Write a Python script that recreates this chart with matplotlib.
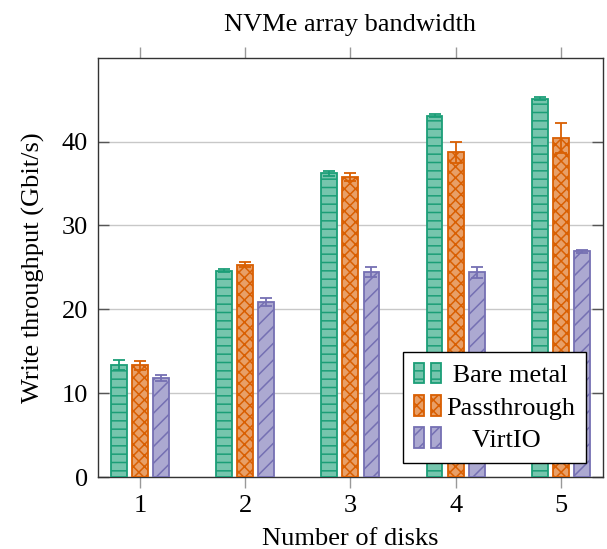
import matplotlib.pyplot as plt
import numpy as np
from matplotlib.colors import to_rgb
from matplotlib.legend_handler import HandlerTuple
from matplotlib.patches import Patch

plt.rcParams["font.family"] = ["Liberation Serif", "DejaVu Serif"]
plt.rcParams["hatch.linewidth"] = 1.1

disks = [1, 2, 3, 4, 5]
series = ["Bare metal", "Passthrough", "VirtIO"]
bare_metal = [13.4, 24.6, 36.2, 43.1, 45.1]
bare_metal_err = [0.6, 0.2, 0.3, 0.2, 0.2]
passthrough = [13.3, 25.3, 35.8, 38.7, 40.4]
passthrough_err = [0.5, 0.3, 0.5, 1.2, 1.8]
virtio = [11.8, 20.9, 24.4, 24.4, 26.9]
virtio_err = [0.4, 0.5, 0.6, 0.7, 0.2]

colors = ["#1b9e77", "#d95f02", "#7570b3"]
hatches = ["--", "xxx", "//"]
# leading spaces to centre the labels like pgfplots does
legend_labels = [" Bare metal", "Passthrough", "    VirtIO"]


def lighten(c, a=0.6):
    r = np.array(to_rgb(c))
    return tuple(r * a + (1 - a))


fig = plt.figure(figsize=(6.07, 5.49), dpi=100)
ax = fig.add_axes([0.161, 0.1311, 0.8324, 0.7638])

x = np.array(disks, dtype=float)
width = 0.15
handles = []
for i, (vals, errs) in enumerate(
    [(bare_metal, bare_metal_err), (passthrough, passthrough_err), (virtio, virtio_err)]
):
    pos = x + (i - 1) * 0.2
    ax.bar(pos, vals, width=width, facecolor=lighten(colors[i]),
           edgecolor=colors[i], hatch=hatches[i], linewidth=1.3, zorder=3)
    ax.errorbar(pos, vals, yerr=errs, fmt="none", ecolor=colors[i],
                elinewidth=1.3, capsize=4, capthick=1.3, zorder=4)
    p = Patch(facecolor=lighten(colors[i]), edgecolor=colors[i],
              hatch=hatches[i], linewidth=1.3)
    handles.append((p, p))

ax.set_xlim(0.6, 5.4)
ax.set_ylim(0, 50)
ax.set_xticks(disks)
ax.set_yticks([0, 10, 20, 30, 40])
ax.yaxis.grid(True, color="#c8c8c8", linewidth=1.0, zorder=0)
ax.set_axisbelow(True)
ax.tick_params(axis="y", direction="in", left=True, right=True, length=8,
               width=1.0, colors="#555555", labelcolor="black", labelsize=19, pad=7)
ax.tick_params(axis="x", direction="out", top=True, bottom=True, length=8,
               width=1.0, colors="#999999", labelcolor="black", labelsize=19, pad=5)
for s in ax.spines.values():
    s.set_linewidth(1.0)
    s.set_color("#333333")

ax.set_title("NVMe array bandwidth", fontsize=19, pad=19)
ax.set_xlabel("Number of disks", fontsize=19, labelpad=8)
ax.set_ylabel("Write throughput (Gbit/s)", fontsize=19, labelpad=12)

leg = ax.legend(handles, legend_labels,
                handler_map={tuple: HandlerTuple(ndivide=None, pad=0.27)},
                loc="lower right", bbox_to_anchor=(0.9664, 0.0334), borderaxespad=0,
                fontsize=19, fancybox=False, framealpha=1, edgecolor="black",
                handlelength=1.0, handleheight=0.83, handletextpad=0.2,
                borderpad=0.42, labelspacing=0.3)
leg.get_frame().set_linewidth(1.0)

fig.savefig("out.png", dpi=100)
